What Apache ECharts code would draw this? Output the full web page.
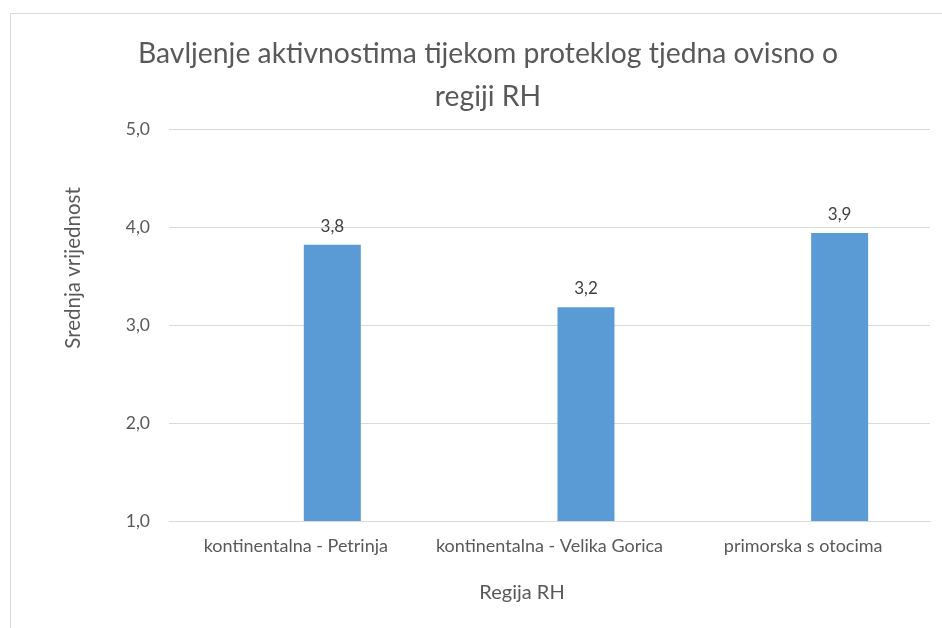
<!DOCTYPE html>
<html>
<head>
<meta charset="utf-8">
<script src="https://cdn.jsdelivr.net/npm/echarts@6/dist/echarts.min.js"></script>
<style>
  html, body { margin: 0; padding: 0; background: #fff; }
  #chart { width: 942px; height: 628px; }
</style>
</head>
<body>
<div id="chart"></div>
<script>
// podaci s grafikona
const categories = ['kontinentalna - Petrinja', 'kontinentalna - Velika Gorica', 'primorska s otocima'];
const emptySeries = [null, null, null];
const meanValues = [3.82, 3.18, 3.94];
const yTicks = { min: 1, max: 5, interval: 1 };

const myChart = echarts.init(document.getElementById('chart'));
const font = 'Lato, "Open Sans", sans-serif';
const comma = v => v.toFixed(1).replace('.', ',');

const option = {
  animation: false,
  backgroundColor: '#fff',
  textStyle: { fontFamily: font },
  title: {
    text: 'Bavljenje aktivnostima tijekom proteklog tjedna ovisno o\nregiji RH',
    left: 483,
    top: 27,
    textAlign: 'center',
    textStyle: { fontFamily: font, fontSize: 28.3, fontWeight: 'normal', color: '#595959', lineHeight: 43 }
  },
  graphic: [
    { type: 'rect', shape: { x: 10.5, y: 13.5, width: 1000, height: 1000 }, style: { fill: 'none', stroke: '#d9d9d9', lineWidth: 1 }, silent: true },
    { type: 'text', x: 73, y: 268, rotation: Math.PI / 2, style: { text: 'Srednja vrijednost', fontFamily: font, fontSize: 20.5, fill: '#595959', textAlign: 'center', textVerticalAlign: 'middle' } },
    { type: 'text', x: 522, y: 593, style: { text: 'Regija RH', fontFamily: font, fontSize: 20, fill: '#595959', textAlign: 'center', textVerticalAlign: 'middle' } }
  ],
  grid: { left: 169, right: 12, top: 129, bottom: 107 },
  xAxis: {
    type: 'category',
    data: categories,
    axisLine: { lineStyle: { color: '#d9d9d9', width: 1 } },
    axisTick: { show: false },
    axisLabel: { color: '#595959', fontSize: 18, margin: 16, interval: 0, hideOverlap: false }
  },
  yAxis: {
    type: 'value',
    min: yTicks.min,
    max: yTicks.max,
    interval: yTicks.interval,
    axisLine: { show: false },
    axisTick: { show: false },
    splitLine: { lineStyle: { color: '#d9d9d9', width: 1 } },
    axisLabel: { color: '#595959', fontSize: 17.5, margin: 19, formatter: comma }
  },
  series: [
    {
      name: 'prazno',
      type: 'bar',
      data: emptySeries,
      barWidth: 57,
      barGap: '28%',
      itemStyle: { color: '#5b9bd5' }
    },
    {
      name: 'Srednja vrijednost',
      type: 'bar',
      data: meanValues,
      barWidth: 57,
      barGap: '28%',
      itemStyle: { color: '#5b9bd5' },
      label: {
        show: true,
        position: 'top',
        distance: 10,
        color: '#404040',
        fontSize: 17,
        formatter: p => comma(p.value)
      }
    }
  ]
};

myChart.setOption(option);
</script>
</body>
</html>
